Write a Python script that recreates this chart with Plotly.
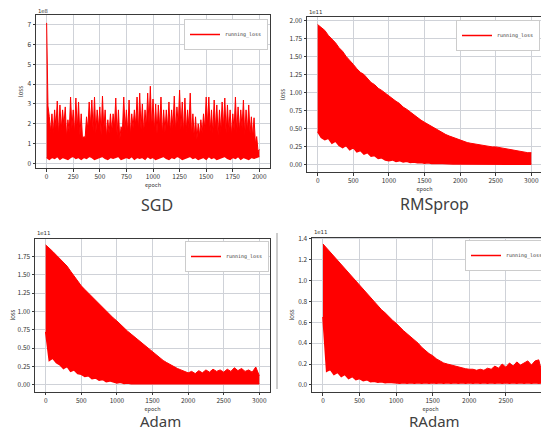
import plotly.graph_objects as go

RED = "#ff0000"

# ---------------- data ----------------
# SGD: upper edge (peaks every 25 epochs, dips in between), lower edge
sgd_peak_epochs = list(range(0, 2001, 25))
sgd_peak = [
    7.1, 2.36, 2.5, 2.7, 3.15, 2.95, 2.7, 2.85, 2.2, 3.35,
    2.7, 3.3, 3.1, 2.5, 1.35, 2.35, 3.1, 3.2, 3.35, 2.7,
    2.85, 3.4, 2.7, 2.2, 2.5, 2.5, 3.3, 2.7, 1.85, 3.35,
    2.7, 3.2, 2.5, 2.7, 3.35, 3.55, 3.0, 2.7, 3.55, 3.9,
    3.25, 3.0, 2.95, 3.35, 2.7, 2.7, 3.1, 2.7, 3.4, 2.85,
    3.7, 3.1, 3.3, 2.7, 3.55, 2.5, 2.35, 2.0, 2.2, 2.5,
    3.35, 3.35, 2.7, 3.2, 2.95, 2.7, 3.1, 3.3, 2.95, 2.7,
    2.5, 3.35, 2.85, 2.7, 3.2, 2.7, 2.95, 2.35, 2.3, 1.35,
    0.7,
]
sgd_dip_epochs = [e + 12.5 for e in range(0, 2000, 25)]
sgd_dip = [
    2.9, 1.6, 1.5, 1.8, 1.4, 1.7, 1.9, 1.3, 1.6, 1.8,
    1.5, 1.7, 1.4, 1.2, 1.3, 1.7, 1.9, 1.6, 1.5, 1.8,
    1.4, 1.7, 1.3, 1.5, 1.6, 1.8, 1.4, 1.2, 1.6, 1.7,
    1.5, 1.4, 1.8, 1.9, 1.6, 1.7, 1.5, 1.8, 2.0, 1.7,
    1.6, 1.5, 1.8, 1.4, 1.6, 1.7, 1.5, 1.8, 1.6, 1.9,
    1.7, 1.5, 1.6, 1.8, 1.4, 1.3, 1.2, 1.4, 1.5, 1.7,
    1.9, 1.6, 1.5, 1.7, 1.4, 1.6, 1.8, 1.5, 1.6, 1.4,
    1.7, 1.5, 1.6, 1.8, 1.4, 1.6, 1.5, 1.3, 1.0, 0.6,
]
sgd_low_epochs = list(range(0, 2001, 25))
sgd_low = [
    0.3, 0.2, 0.3, 0.25, 0.35, 0.2, 0.3, 0.25, 0.2, 0.3,
    0.35, 0.25, 0.3, 0.2, 0.3, 0.25, 0.35, 0.3, 0.2, 0.25,
    0.3, 0.35, 0.25, 0.2, 0.3, 0.25, 0.3, 0.35, 0.2, 0.25,
    0.3, 0.25, 0.35, 0.2, 0.3, 0.25, 0.3, 0.2, 0.35, 0.25,
    0.3, 0.2, 0.25, 0.3, 0.35, 0.25, 0.2, 0.3, 0.25, 0.35,
    0.3, 0.2, 0.25, 0.3, 0.35, 0.25, 0.3, 0.2, 0.25, 0.3,
    0.2, 0.35, 0.25, 0.3, 0.2, 0.25, 0.3, 0.35, 0.25, 0.2,
    0.3, 0.25, 0.35, 0.2, 0.3, 0.25, 0.2, 0.3, 0.25, 0.3,
    0.35,
]

# 3000-epoch runs: upper and lower edge every 50 epochs
epochs_3k = list(range(0, 3001, 50))
rms_high = [
    1.94, 1.90, 1.86, 1.79, 1.74, 1.69, 1.62, 1.57, 1.50, 1.45,
    1.39, 1.33, 1.28, 1.25, 1.19, 1.14, 1.11, 1.06, 1.03, 0.99,
    0.96, 0.92, 0.88, 0.85, 0.80, 0.77, 0.73, 0.70, 0.66, 0.62,
    0.59, 0.56, 0.53, 0.50, 0.47, 0.45, 0.42, 0.40, 0.38, 0.36,
    0.34, 0.33, 0.31, 0.30, 0.29, 0.28, 0.27, 0.265, 0.26, 0.25,
    0.25, 0.24, 0.23, 0.22, 0.21, 0.20, 0.19, 0.18, 0.18, 0.17,
    0.17,
]
rms_low = [
    0.46, 0.38, 0.35, 0.37, 0.30, 0.33, 0.27, 0.24, 0.27, 0.21,
    0.24, 0.18, 0.20, 0.15, 0.17, 0.12, 0.13, 0.09, 0.10, 0.07,
    0.06, 0.07, 0.05, 0.06, 0.04, 0.05, 0.035, 0.04, 0.03, 0.035,
    0.025, 0.03, 0.02, 0.025, 0.02, 0.02, 0.015, 0.02, 0.015, 0.015,
    0.015, 0.01, 0.015, 0.01, 0.015, 0.01, 0.01, 0.015, 0.01, 0.01,
    0.01, 0.01, 0.015, 0.01, 0.01, 0.01, 0.015, 0.01, 0.01, 0.01,
    0.01,
]
adam_high = [
    1.91, 1.87, 1.82, 1.77, 1.72, 1.67, 1.62, 1.55, 1.48, 1.42,
    1.35, 1.30, 1.25, 1.20, 1.15, 1.10, 1.05, 1.00, 0.96, 0.91,
    0.87, 0.82, 0.78, 0.73, 0.69, 0.65, 0.61, 0.56, 0.52, 0.48,
    0.45, 0.41, 0.37, 0.33, 0.30, 0.27, 0.25, 0.22, 0.20, 0.18,
    0.16, 0.18, 0.15, 0.19, 0.16, 0.20, 0.17, 0.21, 0.18, 0.20,
    0.17, 0.21, 0.18, 0.23, 0.19, 0.22, 0.18, 0.20, 0.17, 0.24,
    0.12,
]
adam_low = [
    0.72, 0.33, 0.36, 0.30, 0.27, 0.22, 0.25, 0.18, 0.20, 0.15,
    0.14, 0.11, 0.12, 0.08, 0.09, 0.06, 0.07, 0.04, 0.05, 0.03,
    0.02, 0.03, 0.015, 0.02, 0.01, 0.015, 0.01, 0.01, 0.015, 0.01,
    0.01, 0.01, 0.015, 0.01, 0.01, 0.01, 0.015, 0.01, 0.01, 0.01,
    0.01, 0.01, 0.015, 0.01, 0.01, 0.01, 0.015, 0.01, 0.01, 0.01,
    0.01, 0.01, 0.015, 0.01, 0.01, 0.01, 0.015, 0.01, 0.01, 0.01,
    0.01,
]
radam_high = [
    1.35, 1.31, 1.28, 1.24, 1.20, 1.15, 1.11, 1.07, 1.03, 1.00,
    0.96, 0.91, 0.87, 0.84, 0.80, 0.76, 0.72, 0.69, 0.65, 0.62,
    0.59, 0.55, 0.52, 0.49, 0.46, 0.43, 0.40, 0.36, 0.33, 0.30,
    0.28, 0.25, 0.23, 0.21, 0.20, 0.19, 0.18, 0.17, 0.16, 0.155,
    0.15, 0.15, 0.14, 0.15, 0.14, 0.16, 0.15, 0.18, 0.16, 0.20,
    0.17, 0.21, 0.18, 0.22, 0.19, 0.21, 0.23, 0.19, 0.23, 0.24,
    0.10,
]
radam_low = [
    0.65, 0.13, 0.15, 0.10, 0.12, 0.08, 0.10, 0.06, 0.08, 0.05,
    0.06, 0.04, 0.05, 0.03, 0.035, 0.025, 0.03, 0.02, 0.025, 0.02,
    0.02, 0.015, 0.02, 0.015, 0.02, 0.015, 0.02, 0.015, 0.02, 0.015,
    0.02, 0.015, 0.02, 0.015, 0.02, 0.015, 0.02, 0.015, 0.02, 0.015,
    0.02, 0.015, 0.02, 0.015, 0.02, 0.015, 0.02, 0.015, 0.02, 0.015,
    0.02, 0.015, 0.02, 0.015, 0.02, 0.015, 0.02, 0.015, 0.02, 0.015,
    0.02,
]

titles = ["SGD", "RMSprop", "Adam", "RAdam"]
exponents = ["1e8", "1e11", "1e11", "1e11"]
series_name = "running_loss"
sgd_xticks = list(range(0, 2001, 250))
xticks_3k = list(range(0, 3001, 500))
sgd_yticks = list(range(0, 8))
rms_yticks = [0.0, 0.25, 0.5, 0.75, 1.0, 1.25, 1.5, 1.75, 2.0]
adam_yticks = [0.0, 0.25, 0.5, 0.75, 1.0, 1.25, 1.5, 1.75]
radam_yticks = [0.0, 0.2, 0.4, 0.6, 0.8, 1.0, 1.2, 1.4]

# merge SGD peaks and dips into one upper edge (ordered by epoch)
sgd_up = sorted(list(zip(sgd_peak_epochs, sgd_peak)) + list(zip(sgd_dip_epochs, sgd_dip)))
sgd_up_x = [p[0] for p in sgd_up]
sgd_up_y = [p[1] for p in sgd_up]

# the page has an 8px body margin: the figure sits at (8, 8) in the window
OFF = 8
W, H = 541, 424
def fx(px): return (px - OFF) / W
def fy(py): return 1 - (py - OFF) / H

panels = [
    dict(lo_x=sgd_low_epochs, lo_y=sgd_low, hi_x=sgd_up_x, hi_y=sgd_up_y,
         xd=[fx(36), fx(270)], yd=[fy(168), fy(15)], xr=[-100, 2100], yr=[-0.24, 7.5],
         xt=sgd_xticks, yt=sgd_yticks, yfmt="d",
         leg=(fx(268), fy(19)), title=(157, 205, "middle", 16), exp_pos=(36, 16)),
    dict(lo_x=epochs_3k, lo_y=rms_low, hi_x=epochs_3k, hi_y=rms_high,
         xd=[fx(307), fx(542)], yd=[fy(172), fy(17)], xr=[-150, 3150], yr=[-0.097, 2.045],
         xt=xticks_3k, yt=rms_yticks, yfmt=".2f",
         leg=(fx(540), fy(20)), title=(434, 203.5, "middle", 16), exp_pos=(307, 17)),
    dict(lo_x=epochs_3k, lo_y=adam_low, hi_x=epochs_3k, hi_y=adam_high,
         xd=[fx(35), fx(270)], yd=[fy(391.5), fy(238.7)], xr=[-150, 3150], yr=[-0.095, 1.995],
         xt=xticks_3k, yt=adam_yticks, yfmt=".2f",
         leg=(fx(269), fy(241)), title=(160, 432, "bottom", 15), exp_pos=(35, 238)),
    dict(lo_x=epochs_3k, lo_y=radam_low, hi_x=epochs_3k, hi_y=radam_high,
         xd=[fx(312), 1.0], yd=[fy(392), fy(237.7)], xr=[-150, 3090], yr=[-0.068, 1.41],
         xt=xticks_3k, yt=radam_yticks, yfmt=".1f",
         leg=(1.0, fy(240)), title=(434, 432, "bottom", 15), exp_pos=(312, 237)),
]

TICKFONT = dict(family="Noto Sans CJK JP, DejaVu Sans", size=6.5, color="#333333")
fig = go.Figure()
annotations = []
layout = dict(width=W, height=H, margin=dict(l=0, r=0, t=0, b=0, autoexpand=False),
              paper_bgcolor="white", plot_bgcolor="white", showlegend=True)

for i, p in enumerate(panels):
    n = "" if i == 0 else str(i + 1)
    xa, ya = "x" + n, "y" + n
    leg = "legend" + n
    fig.add_trace(go.Scatter(x=p["lo_x"], y=p["lo_y"], mode="lines", name=series_name,
                             line=dict(color=RED, width=1.5), xaxis=xa, yaxis=ya,
                             legend=leg, showlegend=True, hoverinfo="skip"))
    fig.add_trace(go.Scatter(x=p["hi_x"], y=p["hi_y"], mode="lines", name=series_name,
                             line=dict(color=RED, width=1), fill="tonexty", fillcolor=RED,
                             xaxis=xa, yaxis=ya, legend=leg, showlegend=False, hoverinfo="skip"))
    axis_common = dict(showline=True, mirror=True, linecolor="#3a3a3a", linewidth=1,
                       showgrid=True, gridcolor="#cfd2d8", gridwidth=1, zeroline=False,
                       ticks="outside", ticklen=2.5, tickcolor="#3a3a3a", tickwidth=1,
                       tickfont=TICKFONT, automargin=False)
    layout["xaxis" + n] = dict(axis_common, domain=p["xd"], range=p["xr"], anchor=ya,
                               tickmode="array", tickvals=p["xt"],
                               title=dict(text="epoch", font=dict(family="Noto Sans CJK JP", size=5.5, color="#333"),
                                          standoff=0))
    layout["yaxis" + n] = dict(axis_common, domain=p["yd"], range=p["yr"], anchor=xa,
                               tickmode="array", tickvals=p["yt"], tickformat=p["yfmt"],
                               title=dict(text="loss", font=dict(family="Noto Sans CJK JP", size=6, color="#333"),
                                          standoff=3))
    layout[leg] = dict(x=p["leg"][0], y=p["leg"][1], xanchor="right", yanchor="top",
                       bgcolor="white", bordercolor="#cccccc", borderwidth=1,
                       font=dict(family="DejaVu Sans Mono", size=5, color="#333"),
                       itemwidth=30, tracegroupgap=0)
    tx, ty, tanchor, tsize = p["title"]
    annotations.append(dict(text=titles[i], x=fx(tx), y=fy(ty),
                            xref="paper", yref="paper", showarrow=False, xanchor="center",
                            yanchor=tanchor, borderpad=0,
                            font=dict(family="Noto Sans", size=tsize, color="#404040")))
    annotations.append(dict(text=exponents[i], x=fx(p["exp_pos"][0]), y=fy(p["exp_pos"][1]),
                            xref="paper", yref="paper", showarrow=False, xanchor="left",
                            yanchor="bottom", font=dict(family="DejaVu Sans Mono", size=5.5, color="#333")))

layout["annotations"] = annotations
layout["shapes"] = [dict(type="line", xref="paper", yref="paper", x0=fx(277), x1=fx(277),
                         y0=fy(389), y1=fy(233), line=dict(color="#9a9a9a", width=1))]
fig.update_layout(**layout)
fig.write_html("out.html")
